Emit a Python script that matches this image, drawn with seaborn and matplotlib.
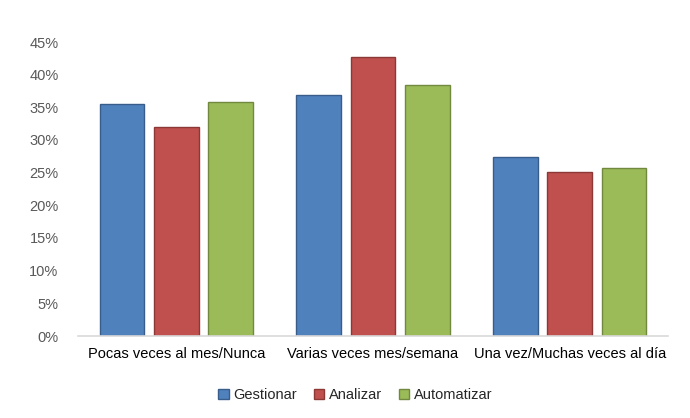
import pandas as pd
import matplotlib.pyplot as plt
import seaborn as sns
from matplotlib.ticker import PercentFormatter
from matplotlib.patches import Patch

# ── Data ──────────────────────────────────────────────────────────────────────
categories = ["Pocas veces al mes/Nunca", "Varias veces mes/semana", "Una vez/Muchas veces al día"]
series     = ["Gestionar", "Analizar", "Automatizar"]
gestionar   = [0.355, 0.369, 0.274]
analizar    = [0.320, 0.427, 0.251]
automatizar = [0.358, 0.384, 0.257]

colors = {"Gestionar": "#4F81BD", "Analizar": "#C0504D", "Automatizar": "#9BBB59"}
edges  = {"Gestionar": "#385D8A", "Analizar": "#8C3836", "Automatizar": "#71893F"}

df = pd.DataFrame({
    "categoria": categories * 3,
    "serie": [s for s in series for _ in categories],
    "valor": gestionar + analizar + automatizar,
})

# ── Plot ──────────────────────────────────────────────────────────────────────
sns.set_style("white")
plt.rcParams["font.family"] = ["Liberation Sans", "DejaVu Sans"]

fig = plt.figure(figsize=(6.9, 4.18), dpi=100)
ax = fig.add_axes([78 / 690, 1 - 336 / 418, 590 / 690, 294 / 418])

sns.barplot(data=df, x="categoria", y="valor", hue="serie", order=categories,
            hue_order=series, palette=colors, saturation=1, width=0.83, gap=0.18,
            legend=False, ax=ax)

for cont, s in zip(ax.containers, series):
    for bar in cont:
        bar.set_edgecolor(edges[s])
        bar.set_linewidth(1.0)

ax.set_ylim(0, 0.45)
ax.set_yticks([i * 0.05 for i in range(10)])
ax.yaxis.set_major_formatter(PercentFormatter(1.0, decimals=0))
ax.set_xlabel("")
ax.set_ylabel("")
ax.tick_params(axis="y", length=0, labelsize=10.5, labelcolor="#595959", pad=14)
ax.tick_params(axis="x", length=0, labelsize=10.5, labelcolor="#000000", pad=8)

for side in ["top", "right", "left"]:
    ax.spines[side].set_visible(False)
ax.spines["bottom"].set_color("#D9D9D9")
ax.spines["bottom"].set_linewidth(1.2)

handles = [Patch(facecolor=colors[s], edgecolor=edges[s], label=s) for s in series]
fig.legend(handles=handles, loc="center", bbox_to_anchor=(0.515, 1 - 395 / 418),
           ncol=3, frameon=False, fontsize=10.5, handlelength=0.7, handleheight=0.7,
           handletextpad=0.3, columnspacing=1.2)

plt.savefig("out.png", dpi=100)
plt.close()
